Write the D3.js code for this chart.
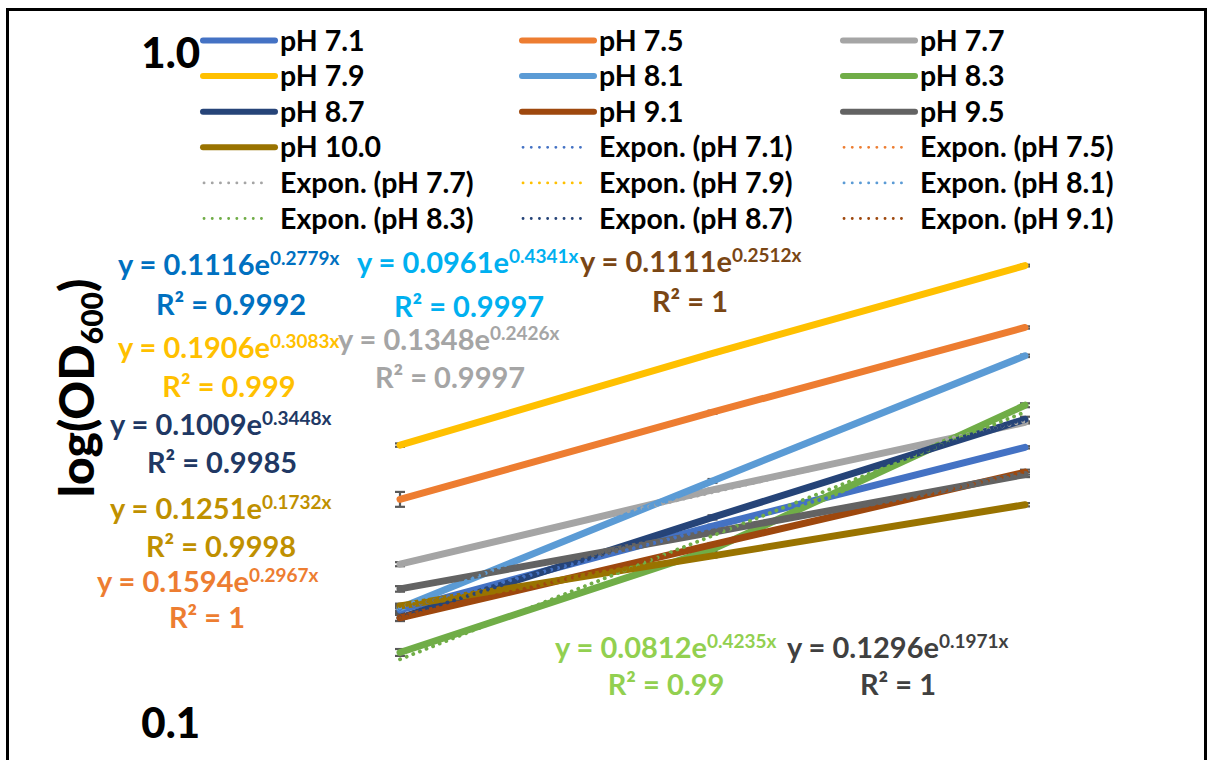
<!DOCTYPE html>
<html><head><meta charset="utf-8">
<script src="https://cdn.jsdelivr.net/npm/d3@7"></script>
<style>
html,body{margin:0;padding:0;background:#fff;}
svg{display:block;font-family:Lato,"Open Sans",sans-serif;}
</style></head>
<body><svg id="chart" width="1212" height="760"></svg>
<script>
// ---- data ----
const categories = [1, 2, 3];
const seriesNames = ["pH 7.1","pH 7.5","pH 7.7","pH 7.9","pH 8.1","pH 8.3","pH 8.7","pH 9.1","pH 9.5","pH 10.0"];
const ph71  = [0.147, 0.196, 0.257];
const ph75  = [0.215, 0.290, 0.388];
const ph77  = [0.172, 0.222, 0.280];
const ph79  = [0.259, 0.355, 0.480];
const ph81  = [0.148, 0.229, 0.352];
const ph83  = [0.127, 0.181, 0.297];
const ph87  = [0.143, 0.202, 0.283];
const ph91  = [0.143, 0.184, 0.236];
const ph95  = [0.158, 0.192, 0.234];
const ph100 = [0.149, 0.177, 0.211];
const err71  = [0.0015, 0.0010, 0.0010];
const err75  = [0.0055, 0.0015, 0.0015];
const err77  = [0.0012, 0.0010, 0.0010];
const err79  = [0.0015, 0.0010, 0.0015];
const err81  = [0.0015, 0.0015, 0.0015];
const err83  = [0.0015, 0.0010, 0.0020];
const err87  = [0.0015, 0.0015, 0.0025];
const err91  = [0.0015, 0.0010, 0.0020];
const err95  = [0.0015, 0.0010, 0.0020];
const err100 = [0.0012, 0.0010, 0.0012];
const seriesColors = ["#4472C4","#ED7D31","#A5A5A5","#FFC000","#5B9BD5","#70AD47","#264478","#9E480E","#636363","#997300"];
// trendline labels (text as printed)
const eqCoef = ["0.1116","0.1594","0.1348","0.1906","0.0961","0.0812","0.1009","0.1111","0.1296","0.1251"];
const eqExp  = ["0.2779x","0.2967x","0.2426x","0.3083x","0.4341x","0.4235x","0.3448x","0.2512x","0.1971x","0.1732x"];
const eqR2   = ["0.9992","1","0.9997","0.999","0.9997","0.99","0.9985","1","1","0.9998"];
const eqColors = ["#0070C0","#ED7D31","#A5A5A5","#FFC000","#00B0F0","#92D050","#203864","#7A4614","#404040","#BF9000"];
const yTickValues = [0.1, 1.0];
const yTickLabels = ["0.1", "1.0"];
const legendTrendSeries = ["pH 7.1","pH 7.5","pH 7.7","pH 7.9","pH 8.1","pH 8.3","pH 8.7","pH 9.1"];

// ---- layout ----
const values = [ph71, ph75, ph77, ph79, ph81, ph83, ph87, ph91, ph95, ph100];
const errs = [err71, err75, err77, err79, err81, err83, err87, err91, err95, err100];
const eqPos = [
  {x:118, y:275, rx:231, ry:315},
  {x:97,  y:592, rx:207, ry:628},
  {x:338, y:350, rx:450, ry:388},
  {x:118, y:358, rx:229, ry:397},
  {x:357, y:273, rx:469, ry:317},
  {x:555, y:658, rx:666, ry:695},
  {x:110, y:435, rx:222, ry:473},
  {x:580, y:272, rx:690, ry:312},
  {x:787, y:658, rx:898, ry:695},
  {x:110, y:519, rx:221, ry:557}
];

const svg = d3.select("#chart");
const x = d3.scalePoint().domain(categories).range([400, 1025]);
const y = d3.scaleLog().domain([0.1, 1]).range([722, 52]);

// frame
svg.append("rect").attr("x", 7.5).attr("y", 9.5).attr("width", 1198).attr("height", 800)
  .attr("fill", "#fff").attr("stroke", "#000").attr("stroke-width", 3);

// y axis tick labels
const yAxis = d3.axisLeft(y).tickValues(yTickValues).tickFormat((d, i) => yTickLabels[i]).tickSize(0).tickPadding(0);
const gy = svg.append("g").attr("transform", "translate(200,0)").call(yAxis);
gy.select(".domain").remove();
gy.selectAll("text").attr("font-family", "Lato").attr("font-weight", 900)
  .attr("font-size", 42).attr("fill", "#000").attr("dy", "0.36em");

// axis title
const title = svg.append("text").attr("transform", "translate(94,388) rotate(-90)")
  .attr("text-anchor", "middle").attr("font-weight", 900).attr("font-size", 48).attr("fill", "#000");
title.append("tspan").text("log(OD");
title.append("tspan").attr("font-size", 30).attr("dy", 9).text("600");
title.append("tspan").attr("dy", -9).text(")");

// error bars
const plot = svg.append("g");
values.forEach((vals, si) => {
  vals.forEach((v, i) => {
    const e = errs[si][i];
    const g = plot.append("g").attr("stroke", "#595959").attr("stroke-width", 2.2);
    const cx = x(categories[i]);
    g.append("line").attr("x1", cx).attr("x2", cx).attr("y1", y(v + e)).attr("y2", y(v - e));
    g.append("line").attr("x1", cx - 5).attr("x2", cx + 5).attr("y1", y(v + e)).attr("y2", y(v + e));
    g.append("line").attr("x1", cx - 5).attr("x2", cx + 5).attr("y1", y(v - e)).attr("y2", y(v - e));
  });
});

// series lines
const line = d3.line().x(d => x(d[0])).y(d => y(d[1]));
values.forEach((vals, si) => {
  plot.append("path").datum(categories.map((c, i) => [c, vals[i]]))
    .attr("d", line).attr("fill", "none").attr("stroke", seriesColors[si])
    .attr("stroke-width", 7).attr("stroke-linecap", "round").attr("stroke-linejoin", "round");
});

// exponential trendlines fitted to the data (least squares on ln y)
function expFit(vals) {
  const xs = categories, ls = vals.map(Math.log);
  const mx = d3.mean(xs), ml = d3.mean(ls);
  let sxy = 0, sxx = 0;
  for (let i = 0; i < xs.length; i++) { sxy += (xs[i] - mx) * (ls[i] - ml); sxx += (xs[i] - mx) ** 2; }
  const b = sxy / sxx;
  return { a: Math.exp(ml - b * mx), b };
}
const xLine = d3.scaleLinear().domain([1, 3]).range([x(1), x(3)]);
values.forEach((vals, si) => {
  const f = expFit(vals);
  const pts = d3.range(0, 41).map(k => 1 + k * 0.05);
  plot.append("path").datum(pts)
    .attr("d", d3.line().x(t => xLine(t)).y(t => y(f.a * Math.exp(f.b * t))))
    .attr("fill", "none").attr("stroke", seriesColors[si]).attr("stroke-width", 3.8)
    .attr("stroke-linecap", "round").attr("stroke-dasharray", "0.1 7");
});

// trendline equation labels
const labels = svg.append("g").attr("font-weight", 700);
eqCoef.forEach((c, si) => {
  const p = eqPos[si];
  const t = labels.append("text").attr("x", p.x).attr("y", p.y).attr("font-size", 29).attr("fill", eqColors[si]);
  t.append("tspan").text("y = " + c + "e");
  t.append("tspan").attr("font-size", 19).attr("dy", -10).text(eqExp[si]);
  labels.append("text").attr("x", p.rx).attr("y", p.ry).attr("text-anchor", "middle")
    .attr("font-size", 29).attr("fill", eqColors[si]).text("R² = " + eqR2[si]);
});

// legend
const legendItems = seriesNames.map((n, i) => ({ name: n, color: seriesColors[i], dotted: false }))
  .concat(legendTrendSeries.map(n => ({ name: "Expon. (" + n + ")", color: seriesColors[seriesNames.indexOf(n)], dotted: true })));
const colX = [203, 522, 843];
const legend = svg.append("g");
legendItems.forEach((it, i) => {
  const col = i % 3, row = Math.floor(i / 3);
  const lx = colX[col], ly = 40.5 + row * 35.6;
  if (it.dotted) {
    legend.append("line").attr("x1", lx + 1).attr("x2", lx + 66).attr("y1", ly).attr("y2", ly)
      .attr("stroke", it.color).attr("stroke-width", 2.8).attr("stroke-linecap", "round").attr("stroke-dasharray", "0.1 8.1");
  } else {
    legend.append("line").attr("x1", lx).attr("x2", lx + 72).attr("y1", ly).attr("y2", ly)
      .attr("stroke", it.color).attr("stroke-width", 6).attr("stroke-linecap", "round");
  }
  legend.append("text").attr("x", lx + 77).attr("y", ly + 10).attr("font-size", 28.5)
    .attr("font-weight", 700).attr("fill", "#000").text(it.name);
});
</script></body></html>
